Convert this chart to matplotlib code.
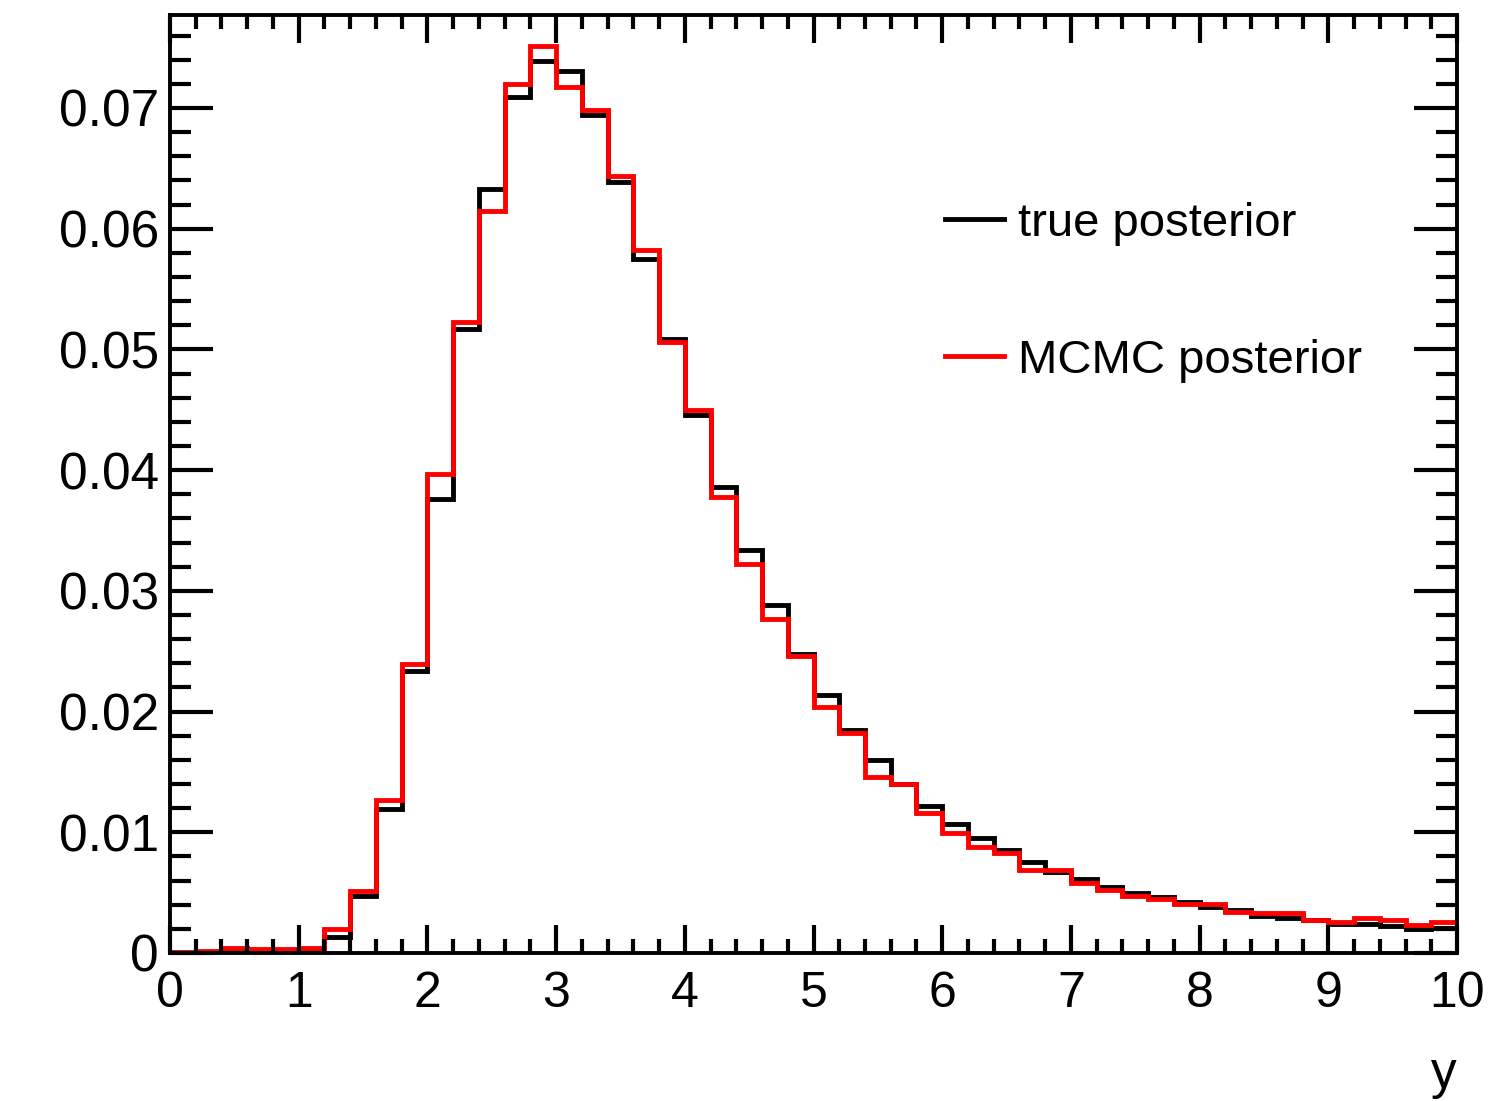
import numpy as np
import matplotlib
matplotlib.use('Agg')
import matplotlib.pyplot as plt
from matplotlib.ticker import MultipleLocator
from matplotlib.lines import Line2D

plt.rcParams['font.family'] = ['Liberation Sans', 'DejaVu Sans']

# binning: 50 bins between 0 and 10
edges = np.linspace(0, 10, 51)

true_post = [0.0000, 0.0001, 0.0002, 0.0002, 0.0002, 0.0003, 0.0013, 0.0047, 0.0119, 0.0234,
             0.0376, 0.0517, 0.0633, 0.0709, 0.0739, 0.0731, 0.0694, 0.0639, 0.0575, 0.0509,
             0.0446, 0.0386, 0.0334, 0.0288, 0.0248, 0.0214, 0.0185, 0.0160, 0.0140, 0.0122,
             0.0107, 0.0095, 0.0085, 0.0075, 0.0067, 0.0061, 0.0055, 0.0050, 0.0046, 0.0042,
             0.0038, 0.0036, 0.0031, 0.0029, 0.0027, 0.0024, 0.0024, 0.0022, 0.0020, 0.0021]

mcmc_post = [0.00005, 0.0002, 0.0004, 0.0003, 0.0003, 0.0004, 0.0020, 0.0051, 0.0127, 0.0239,
             0.0397, 0.0523, 0.0615, 0.0720, 0.0751, 0.0717, 0.0698, 0.0644, 0.0582, 0.0506,
             0.0450, 0.0378, 0.0322, 0.0277, 0.0246, 0.0204, 0.0182, 0.0146, 0.0140, 0.0116,
             0.0099, 0.0088, 0.0083, 0.0069, 0.0069, 0.0058, 0.0052, 0.0047, 0.0045, 0.0041,
             0.0041, 0.0034, 0.0033, 0.0033, 0.0027, 0.0026, 0.0029, 0.0027, 0.0023, 0.0026]

labels = ["true posterior", "MCMC posterior"]
colors = ["black", "red"]

fig = plt.figure(figsize=(15.05, 11.01), dpi=100)
ax = fig.add_axes([170/1505, 1 - 953/1101, 1287/1505, 938/1101])

ax.stairs(true_post, edges, baseline=None, color=colors[0], linewidth=3.5)
ax.stairs(mcmc_post, edges, baseline=None, color=colors[1], linewidth=3.5)

ax.set_xlim(0, 10)
ax.set_ylim(0, 0.0777)

ax.xaxis.set_major_locator(MultipleLocator(1))
ax.xaxis.set_minor_locator(MultipleLocator(0.2))
ax.yaxis.set_major_locator(MultipleLocator(0.01))
ax.yaxis.set_minor_locator(MultipleLocator(0.002))
ax.yaxis.set_major_formatter(lambda v, p: "0" if abs(v) < 1e-9 else f"{v:.2f}")

# ROOT style ticks: inside, on all four sides
ax.tick_params(axis='x', which='major', direction='in', length=20, width=3,
               top=True, labelsize=36, pad=13)
ax.tick_params(axis='x', which='minor', direction='in', length=10, width=3, top=True)
ax.tick_params(axis='y', which='major', direction='in', length=31, width=3,
               right=True, labelsize=37, pad=8)
ax.tick_params(axis='y', which='minor', direction='in', length=15, width=3, right=True)
for s in ax.spines.values():
    s.set_linewidth(2.8)

ax.set_xlabel("y", fontsize=37, loc='right', labelpad=24)

handles = [Line2D([], [], color=c, linewidth=3.5) for c in colors]
ax.legend(handles, labels, loc='upper left', bbox_to_anchor=(0.602, 0.801),
          frameon=False, fontsize=34, handlelength=1.25, handletextpad=0.3,
          labelspacing=1.97, borderpad=0, borderaxespad=0)

plt.savefig("out.png", dpi=100)
